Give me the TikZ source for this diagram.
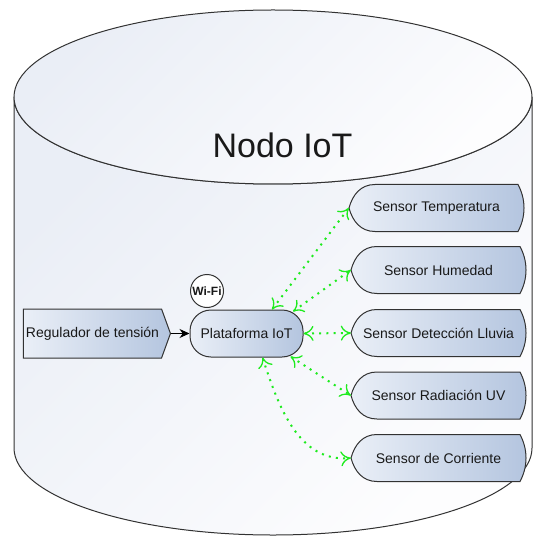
\documentclass[tikz,border=0pt]{standalone}
\usepackage{fontspec}
\setmainfont{Liberation Sans}
\usetikzlibrary{arrows.meta,shapes.symbols}

\definecolor{edge}{RGB}{50,50,50}
\definecolor{ink}{RGB}{25,25,25}
\definecolor{cylA}{RGB}{234,238,246}
\definecolor{cylB}{RGB}{253,253,254}
\definecolor{boxA}{RGB}{234,239,247}
\definecolor{boxB}{RGB}{180,197,223}
\definecolor{link}{RGB}{30,235,30}

\tikzset{
  cylfill/.style={draw=edge, line width=1pt, top color=cylA, bottom color=cylB, shading angle=45},
  boxfill/.style={draw=edge, line width=1pt, left color=boxA, right color=boxB},
  label/.style={text=ink, font=\fontsize{14}{16}\selectfont, inner sep=0pt},
  sensorbox/.style={label, minimum width=175pt, minimum height=47pt},
  radio/.style={link, line width=2pt, dash pattern=on 2pt off 5.2pt,
    {Computer Modern Rightarrow[length=10pt,width=15pt,line width=1.3pt]}-{Computer Modern Rightarrow[length=10pt,width=15pt,line width=1.3pt]}},
  power/.style={draw=black, line width=1pt, -{Stealth[length=10pt,width=9pt]}}
}

% sensor with a display-like outline: pointed curved left side, bulging right side
\newcommand\sensor[4]{%
  \shadedraw[boxfill, shift={(#2,#3)}]
    (-87.5,0) .. controls (-84,-13) and (-76,-23.5) .. (-61.5,-23.5)
    -- (81.5,-23.5) .. controls (85,-17) and (87.5,-9) .. (87.5,0)
    .. controls (87.5,9) and (85,17) .. (81.5,23.5)
    -- (-61.5,23.5) .. controls (-76,23.5) and (-84,13) .. (-87.5,0) -- cycle;
  \node[sensorbox] (#1) at (#2,#3) {#4};%
}

\begin{document}
\begin{tikzpicture}[x=1pt,y=-1pt]
\useasboundingbox (0,0) rectangle (533,537);

% cylinder body and lid
\shadedraw[cylfill] (14,97) -- (14,448)
  arc[start angle=180, end angle=0, x radius=259, y radius=87]
  -- (532,97)
  arc[start angle=0, end angle=180, x radius=259, y radius=87] -- cycle;
\shadedraw[cylfill] (273,97) ellipse [x radius=259, y radius=87];
\node[text=ink, font=\fontsize{34}{38}\selectfont, inner sep=0pt] (title) at (282.5,145) {Nodo IoT};

% power regulator and platform
\node[signal, signal to=east, signal pointer angle=140, minimum width=147pt,
      minimum height=49pt, boxfill, label] (reg) at (92.5,333.5) {Regulador de tensión};
\node[rectangle, rounded corners=21pt, minimum width=113pt, minimum height=47pt,
      boxfill, label] (plat) at (246.5,333.5) {Plataforma IoT};
\node[circle, draw=edge, line width=1pt, fill=white, minimum size=33pt, inner sep=0pt,
      text=ink, font=\fontsize{12}{14}\selectfont\bfseries] (wifi) at (207,291) {Wi-Fi};

\draw[power] (reg.east) -- (plat.west);

% sensors
\sensor{temp}{436.5}{208}{Sensor Temperatura}
\sensor{hum}{438.5}{270}{Sensor Humedad}
\sensor{rain}{438.5}{333}{Sensor Detección Lluvia}
\sensor{uv}{438.5}{395.5}{Sensor Radiación UV}
\sensor{curr}{438.5}{458}{Sensor de Corriente}

% wireless links
\draw[radio] ([xshift=25.5pt]plat.north) -- (temp.west);
\draw[radio] ([xshift=46.5pt,yshift=-2pt]plat.north) -- (hum.west);
\draw[radio] (plat.east) -- (rain.west);
\draw[radio] ([xshift=44pt,yshift=1pt]plat.south) -- (uv.west);
\draw[radio] ([xshift=16pt]plat.south) to[out=-72, in=185] (curr.west);
\end{tikzpicture}
\end{document}
